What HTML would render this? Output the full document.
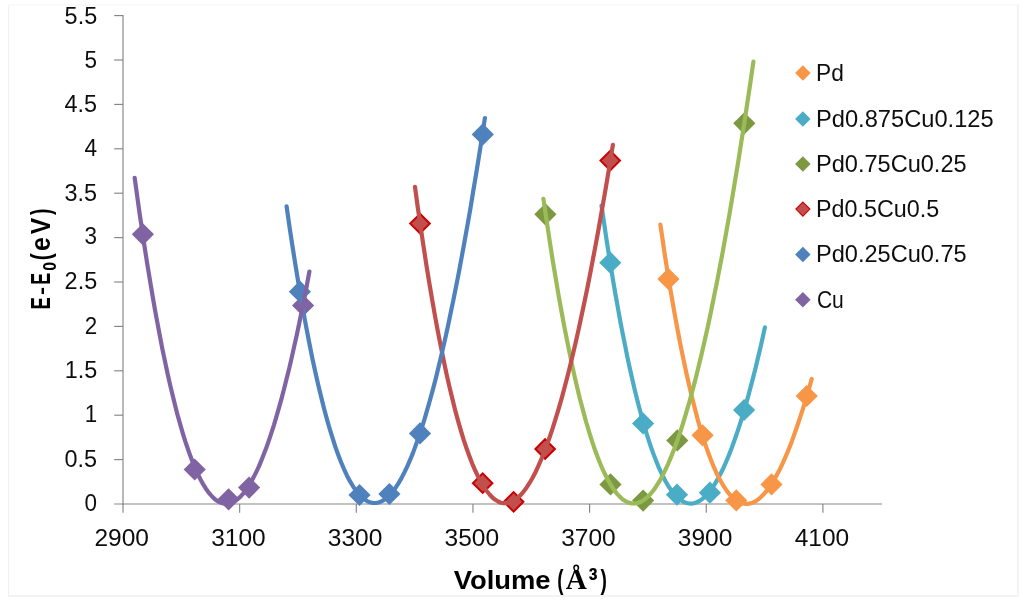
<!DOCTYPE html>
<html><head><meta charset="utf-8"><title>chart</title>
<style>
html,body{margin:0;padding:0;background:#fff;}
body{width:1024px;height:604px;overflow:hidden;}
svg{display:block;}
text{font-family:"Liberation Sans",sans-serif;fill:#111;}
</style></head><body>
<svg width="1024" height="604" viewBox="0 0 1024 604">
<rect x="0" y="0" width="1024" height="604" fill="#fff"/>
<defs><filter id="soft" x="0" y="0" width="1024" height="604" filterUnits="userSpaceOnUse"><feGaussianBlur stdDeviation="0.6"/></filter></defs>
<g filter="url(#soft)">
<g fill="none" stroke-linecap="round">
<path d="M8.55,5.2 V595.9" stroke="#f1f1f1" stroke-width="1.2"/>
<path d="M8.55,5.1 H1018.1" stroke="#f9f9f9" stroke-width="1.6"/>
<path d="M1018.1,5.2 V595.0" stroke="#f3f3f3" stroke-width="1.9"/>
<path d="M8.55,595.95 H1017.4" stroke="#f3f3f3" stroke-width="2"/>
</g>

<g stroke="#868686" stroke-width="1.15" fill="none">
<path d="M123.0,15.0 V504.6"/>
<path d="M114.2,504.0 H882"/>
<path d="M114.2,459.60 H123.0"/>
<path d="M114.2,415.20 H123.0"/>
<path d="M114.2,370.80 H123.0"/>
<path d="M114.2,326.40 H123.0"/>
<path d="M114.2,282.00 H123.0"/>
<path d="M114.2,237.60 H123.0"/>
<path d="M114.2,193.20 H123.0"/>
<path d="M114.2,148.80 H123.0"/>
<path d="M114.2,104.40 H123.0"/>
<path d="M114.2,60.00 H123.0"/>
<path d="M114.2,15.60 H123.0"/>
<path d="M123.00,504.0 V512.8"/>
<path d="M239.65,504.0 V512.8"/>
<path d="M356.30,504.0 V512.8"/>
<path d="M472.95,504.0 V512.8"/>
<path d="M589.60,504.0 V512.8"/>
<path d="M706.25,504.0 V512.8"/>
<path d="M822.90,504.0 V512.8"/>
</g>
<text transform="translate(84.62,510.65) scale(0.9297,1)" style='font-family:"Liberation Sans",sans-serif;font-size:24.20px;'>0</text>
<text transform="translate(64.60,467.15) scale(0.9680,1)" style='font-family:"Liberation Sans",sans-serif;font-size:24.20px;'>0.5</text>
<text transform="translate(84.68,422.35) scale(0.9231,1)" style='font-family:"Liberation Sans",sans-serif;font-size:24.20px;'>1</text>
<text transform="translate(64.63,377.85) scale(0.9673,1)" style='font-family:"Liberation Sans",sans-serif;font-size:24.20px;'>1.5</text>
<text transform="translate(84.64,333.65) scale(0.9268,1)" style='font-family:"Liberation Sans",sans-serif;font-size:24.20px;'>2</text>
<text transform="translate(64.61,288.95) scale(0.9677,1)" style='font-family:"Liberation Sans",sans-serif;font-size:24.20px;'>2.5</text>
<text transform="translate(84.62,244.15) scale(0.9291,1)" style='font-family:"Liberation Sans",sans-serif;font-size:24.20px;'>3</text>
<text transform="translate(64.60,201.25) scale(0.9680,1)" style='font-family:"Liberation Sans",sans-serif;font-size:24.20px;'>3.5</text>
<text transform="translate(84.60,156.25) scale(0.9327,1)" style='font-family:"Liberation Sans",sans-serif;font-size:24.20px;'>4</text>
<text transform="translate(64.60,111.65) scale(0.9682,1)" style='font-family:"Liberation Sans",sans-serif;font-size:24.20px;'>4.5</text>
<text transform="translate(84.62,68.35) scale(0.9291,1)" style='font-family:"Liberation Sans",sans-serif;font-size:24.20px;'>5</text>
<text transform="translate(64.61,23.85) scale(0.9679,1)" style='font-family:"Liberation Sans",sans-serif;font-size:24.20px;'>5.5</text>
<text transform="translate(94.42,546.00) scale(1.0000,1)" style='font-family:"Liberation Sans",sans-serif;font-size:24.50px;'>2900</text>
<text transform="translate(211.22,546.00) scale(1.0000,1)" style='font-family:"Liberation Sans",sans-serif;font-size:24.50px;'>3100</text>
<text transform="translate(327.87,546.00) scale(1.0000,1)" style='font-family:"Liberation Sans",sans-serif;font-size:24.50px;'>3300</text>
<text transform="translate(444.52,546.00) scale(1.0000,1)" style='font-family:"Liberation Sans",sans-serif;font-size:24.50px;'>3500</text>
<text transform="translate(561.17,546.00) scale(1.0000,1)" style='font-family:"Liberation Sans",sans-serif;font-size:24.50px;'>3700</text>
<text transform="translate(677.82,546.00) scale(1.0000,1)" style='font-family:"Liberation Sans",sans-serif;font-size:24.50px;'>3900</text>
<text transform="translate(794.66,546.00) scale(1.0000,1)" style='font-family:"Liberation Sans",sans-serif;font-size:24.50px;'>4100</text>
<path d="M610.3,251.6 L621.4,262.7 L610.3,273.8 L599.2,262.7 Z" fill="#4BACC6"/>
<path d="M643.1,412.4 L654.2,423.5 L643.1,434.6 L632.0,423.5 Z" fill="#4BACC6"/>
<path d="M677.0,483.6 L688.1,494.7 L677.0,505.8 L665.9,494.7 Z" fill="#4BACC6"/>
<path d="M709.9,481.6 L721.0,492.7 L709.9,503.8 L698.8,492.7 Z" fill="#4BACC6"/>
<path d="M744.1,398.9 L755.2,410.0 L744.1,421.1 L733.0,410.0 Z" fill="#4BACC6"/>
<path d="M668.4,267.9 L679.5,279.0 L668.4,290.1 L657.3,279.0 Z" fill="#F79646"/>
<path d="M702.6,424.2 L713.7,435.3 L702.6,446.4 L691.5,435.3 Z" fill="#F79646"/>
<path d="M736.3,489.3 L747.4,500.4 L736.3,511.5 L725.2,500.4 Z" fill="#F79646"/>
<path d="M771.5,473.3 L782.6,484.4 L771.5,495.5 L760.4,484.4 Z" fill="#F79646"/>
<path d="M806.7,384.9 L817.8,396.0 L806.7,407.1 L795.6,396.0 Z" fill="#F79646"/>
<path d="M545.4,203.2 L556.5,214.3 L545.4,225.4 L534.3,214.3 Z" fill="#7B9943"/>
<path d="M610.5,473.3 L621.6,484.4 L610.5,495.5 L599.4,484.4 Z" fill="#7B9943"/>
<path d="M643.1,489.5 L654.2,500.6 L643.1,511.7 L632.0,500.6 Z" fill="#7B9943"/>
<path d="M677.3,429.3 L688.4,440.4 L677.3,451.5 L666.2,440.4 Z" fill="#7B9943"/>
<path d="M744.3,112.2 L755.4,123.3 L744.3,134.4 L733.2,123.3 Z" fill="#7B9943"/>
<path d="M420.0,213.8 L429.8,223.6 L420.0,233.3 L410.2,223.6 Z" fill="#C0504D" stroke="#CC0000" stroke-width="2.0"/>
<path d="M482.7,473.4 L492.4,483.2 L482.7,492.9 L472.9,483.2 Z" fill="#C0504D" stroke="#CC0000" stroke-width="2.0"/>
<path d="M513.6,492.1 L523.4,501.8 L513.6,511.6 L503.9,501.8 Z" fill="#C0504D" stroke="#CC0000" stroke-width="2.0"/>
<path d="M545.1,439.2 L554.9,449.0 L545.1,458.8 L535.4,449.0 Z" fill="#C0504D" stroke="#CC0000" stroke-width="2.0"/>
<path d="M610.2,150.8 L620.0,160.6 L610.2,170.3 L600.5,160.6 Z" fill="#C0504D" stroke="#CC0000" stroke-width="2.0"/>
<path d="M299.9,280.6 L311.0,291.7 L299.9,302.8 L288.8,291.7 Z" fill="#4F81BD"/>
<path d="M359.5,483.9 L370.6,495.0 L359.5,506.1 L348.4,495.0 Z" fill="#4F81BD"/>
<path d="M389.4,482.9 L400.5,494.0 L389.4,505.1 L378.3,494.0 Z" fill="#4F81BD"/>
<path d="M420.0,422.3 L431.1,433.4 L420.0,444.5 L408.9,433.4 Z" fill="#4F81BD"/>
<path d="M482.8,123.3 L493.9,134.4 L482.8,145.5 L471.7,134.4 Z" fill="#4F81BD"/>
<path d="M142.9,223.2 L154.0,234.3 L142.9,245.4 L131.8,234.3 Z" fill="#8064A2"/>
<path d="M194.7,458.4 L205.8,469.5 L194.7,480.6 L183.6,469.5 Z" fill="#8064A2"/>
<path d="M228.6,488.2 L239.7,499.3 L228.6,510.4 L217.5,499.3 Z" fill="#8064A2"/>
<path d="M249.1,476.5 L260.2,487.6 L249.1,498.7 L238.0,487.6 Z" fill="#8064A2"/>
<path d="M303.1,294.4 L314.2,305.5 L303.1,316.6 L292.0,305.5 Z" fill="#8064A2"/>
<path d="M601.5,205.6 L603.9,221.8 L606.2,237.5 L608.6,252.8 L611.0,267.5 L613.3,281.8 L615.7,295.6 L618.1,309.0 L620.4,321.8 L622.8,334.2 L625.2,346.2 L627.5,357.7 L629.9,368.7 L632.3,379.3 L634.6,389.4 L637.0,399.1 L639.4,408.3 L641.8,417.1 L644.1,425.4 L646.5,433.3 L648.9,440.8 L651.2,447.8 L653.6,454.4 L656.0,460.6 L658.3,466.3 L660.7,471.6 L663.1,476.5 L665.4,481.0 L667.8,485.1 L670.2,488.8 L672.6,492.0 L674.9,494.8 L677.3,497.3 L679.7,499.3 L682.0,500.9 L684.4,502.2 L686.8,503.0 L689.1,503.5 L691.5,503.6 L693.9,503.2 L696.2,502.5 L698.6,501.4 L701.0,500.0 L703.3,498.1 L705.7,495.9 L708.1,493.4 L710.5,490.4 L712.8,487.1 L715.2,483.4 L717.6,479.4 L719.9,475.0 L722.3,470.3 L724.7,465.2 L727.0,459.7 L729.4,453.9 L731.8,447.8 L734.1,441.3 L736.5,434.5 L738.9,427.4 L741.3,419.9 L743.6,412.1 L746.0,404.0 L748.4,395.5 L750.7,386.7 L753.1,377.6 L755.5,368.2 L757.8,358.5 L760.2,348.4 L762.6,338.1 L764.9,327.4" fill="none" stroke="#4BACC6" stroke-width="4.2" stroke-linecap="round" stroke-linejoin="round"/>
<path d="M660.4,224.7 L662.6,239.6 L664.7,254.1 L666.9,268.1 L669.1,281.6 L671.3,294.7 L673.5,307.4 L675.7,319.7 L677.9,331.5 L680.1,342.9 L682.3,353.9 L684.5,364.4 L686.7,374.5 L688.9,384.3 L691.1,393.6 L693.3,402.5 L695.5,411.0 L697.6,419.1 L699.8,426.8 L702.0,434.1 L704.2,441.1 L706.4,447.6 L708.6,453.8 L710.8,459.6 L713.0,465.0 L715.2,470.1 L717.4,474.8 L719.6,479.1 L721.8,483.0 L724.0,486.6 L726.2,489.9 L728.3,492.8 L730.5,495.4 L732.7,497.6 L734.9,499.4 L737.1,501.0 L739.3,502.2 L741.5,503.1 L743.7,503.6 L745.9,503.9 L748.1,503.8 L750.3,503.4 L752.5,502.7 L754.7,501.7 L756.9,500.4 L759.1,498.7 L761.2,496.8 L763.4,494.6 L765.6,492.1 L767.8,489.3 L770.0,486.3 L772.2,482.9 L774.4,479.3 L776.6,475.4 L778.8,471.3 L781.0,466.8 L783.2,462.1 L785.4,457.2 L787.6,452.0 L789.8,446.6 L792.0,440.9 L794.1,434.9 L796.3,428.7 L798.5,422.3 L800.7,415.7 L802.9,408.8 L805.1,401.7 L807.3,394.3 L809.5,386.8 L811.7,379.0" fill="none" stroke="#F79646" stroke-width="4.2" stroke-linecap="round" stroke-linejoin="round"/>
<path d="M543.4,198.8 L546.5,219.7 L549.5,239.8 L552.5,259.1 L555.6,277.7 L558.6,295.5 L561.7,312.5 L564.7,328.7 L567.8,344.2 L570.8,358.9 L573.8,372.9 L576.9,386.2 L579.9,398.7 L583.0,410.4 L586.0,421.5 L589.1,431.8 L592.1,441.4 L595.1,450.3 L598.2,458.5 L601.2,466.0 L604.3,472.8 L607.3,478.9 L610.4,484.3 L613.4,489.0 L616.4,493.1 L619.5,496.4 L622.5,499.2 L625.6,501.2 L628.6,502.6 L631.7,503.4 L634.7,503.5 L637.8,503.0 L640.8,501.8 L643.8,500.0 L646.9,497.6 L649.9,494.6 L653.0,491.0 L656.0,486.7 L659.1,481.9 L662.1,476.4 L665.1,470.4 L668.2,463.8 L671.2,456.6 L674.3,448.8 L677.3,440.5 L680.4,431.6 L683.4,422.1 L686.4,412.1 L689.5,401.5 L692.5,390.4 L695.6,378.7 L698.6,366.5 L701.7,353.8 L704.7,340.5 L707.8,326.8 L710.8,312.5 L713.8,297.7 L716.9,282.4 L719.9,266.6 L723.0,250.4 L726.0,233.6 L729.1,216.4 L732.1,198.6 L735.1,180.4 L738.2,161.8 L741.2,142.7 L744.3,123.1 L747.3,103.1 L750.4,82.6 L753.4,61.7" fill="none" stroke="#9BBB59" stroke-width="4.2" stroke-linecap="round" stroke-linejoin="round"/>
<path d="M415.0,186.9 L417.8,207.6 L420.7,227.5 L423.6,246.7 L426.4,265.1 L429.3,282.8 L432.2,299.8 L435.0,316.0 L437.9,331.6 L440.8,346.4 L443.7,360.5 L446.5,373.9 L449.4,386.6 L452.3,398.6 L455.1,409.9 L458.0,420.6 L460.9,430.6 L463.7,439.9 L466.6,448.5 L469.5,456.5 L472.3,463.8 L475.2,470.5 L478.1,476.6 L480.9,482.0 L483.8,486.8 L486.7,491.0 L489.6,494.5 L492.4,497.5 L495.3,499.8 L498.2,501.5 L501.0,502.7 L503.9,503.2 L506.8,503.2 L509.6,502.6 L512.5,501.4 L515.4,499.7 L518.2,497.4 L521.1,494.5 L524.0,491.1 L526.8,487.2 L529.7,482.7 L532.6,477.7 L535.5,472.2 L538.3,466.1 L541.2,459.5 L544.1,452.5 L546.9,444.9 L549.8,436.8 L552.7,428.2 L555.5,419.2 L558.4,409.6 L561.3,399.6 L564.1,389.2 L567.0,378.2 L569.9,366.8 L572.7,355.0 L575.6,342.7 L578.5,329.9 L581.3,316.8 L584.2,303.2 L587.1,289.2 L590.0,274.7 L592.8,259.9 L595.7,244.6 L598.6,229.0 L601.4,212.9 L604.3,196.5 L607.2,179.7 L610.0,162.5 L612.9,144.9" fill="none" stroke="#C0504D" stroke-width="4.2" stroke-linecap="round" stroke-linejoin="round"/>
<path d="M286.6,206.3 L289.4,226.1 L292.3,245.1 L295.2,263.5 L298.1,281.1 L300.9,298.0 L303.8,314.2 L306.7,329.7 L309.6,344.5 L312.4,358.6 L315.3,372.0 L318.2,384.7 L321.1,396.8 L323.9,408.1 L326.8,418.8 L329.7,428.9 L332.6,438.2 L335.4,447.0 L338.3,455.0 L341.2,462.5 L344.1,469.3 L346.9,475.4 L349.8,480.9 L352.7,485.8 L355.6,490.1 L358.4,493.7 L361.3,496.8 L364.2,499.2 L367.1,501.1 L369.9,502.3 L372.8,503.0 L375.7,503.0 L378.6,502.5 L381.4,501.4 L384.3,499.7 L387.2,497.5 L390.1,494.7 L392.9,491.3 L395.8,487.4 L398.7,482.9 L401.6,477.9 L404.4,472.4 L407.3,466.3 L410.2,459.7 L413.1,452.6 L415.9,444.9 L418.8,436.8 L421.7,428.1 L424.6,418.9 L427.4,409.2 L430.3,399.0 L433.2,388.4 L436.1,377.2 L438.9,365.6 L441.8,353.5 L444.7,340.9 L447.6,327.8 L450.4,314.3 L453.3,300.4 L456.2,285.9 L459.1,271.1 L461.9,255.8 L464.8,240.0 L467.7,223.9 L470.6,207.3 L473.4,190.2 L476.3,172.8 L479.2,154.9 L482.1,136.7 L484.9,118.0" fill="none" stroke="#4F81BD" stroke-width="4.2" stroke-linecap="round" stroke-linejoin="round"/>
<path d="M134.7,177.9 L137.2,196.3 L139.7,214.1 L142.3,231.4 L144.8,248.1 L147.3,264.3 L149.9,279.8 L152.4,294.9 L154.9,309.4 L157.5,323.3 L160.0,336.7 L162.5,349.6 L165.1,361.9 L167.6,373.7 L170.1,384.9 L172.7,395.6 L175.2,405.8 L177.7,415.5 L180.3,424.6 L182.8,433.3 L185.3,441.4 L187.9,449.0 L190.4,456.1 L192.9,462.7 L195.5,468.8 L198.0,474.4 L200.5,479.5 L203.1,484.1 L205.6,488.2 L208.1,491.8 L210.7,494.9 L213.2,497.6 L215.7,499.8 L218.3,501.5 L220.8,502.7 L223.3,503.5 L225.9,503.8 L228.4,503.6 L230.9,503.0 L233.5,501.9 L236.0,500.4 L238.5,498.4 L241.1,495.9 L243.6,493.1 L246.1,489.7 L248.7,486.0 L251.2,481.8 L253.7,477.1 L256.2,472.1 L258.8,466.6 L261.3,460.6 L263.8,454.3 L266.4,447.5 L268.9,440.4 L271.4,432.8 L274.0,424.8 L276.5,416.4 L279.0,407.6 L281.6,398.4 L284.1,388.8 L286.6,378.8 L289.2,368.4 L291.7,357.6 L294.2,346.4 L296.8,334.9 L299.3,323.0 L301.8,310.7 L304.4,298.0 L306.9,285.0 L309.4,271.5" fill="none" stroke="#8064A2" stroke-width="4.2" stroke-linecap="round" stroke-linejoin="round"/>
<path d="M802.9,65.2 L810.6,73.0 L802.9,80.8 L795.1,73.0 Z" fill="#F79646"/>
<text transform="translate(816.07,80.90) scale(0.9886,1)" style='font-family:"Liberation Sans",sans-serif;font-size:23.00px;'>Pd</text>
<path d="M802.9,111.2 L810.6,118.9 L802.9,126.7 L795.1,118.9 Z" fill="#4BACC6"/>
<text transform="translate(816.00,126.80) scale(1.0295,1)" style='font-family:"Liberation Sans",sans-serif;font-size:23.00px;'>Pd0.875Cu0.125</text>
<path d="M802.9,156.3 L810.6,164.1 L802.9,171.8 L795.1,164.1 Z" fill="#7B9943"/>
<text transform="translate(816.01,172.00) scale(1.0249,1)" style='font-family:"Liberation Sans",sans-serif;font-size:23.00px;'>Pd0.75Cu0.25</text>
<path d="M802.9,202.1 L809.9,209.1 L802.9,216.1 L795.9,209.1 Z" fill="#C0504D" stroke="#CC0000" stroke-width="1.1"/>
<text transform="translate(816.03,217.00) scale(1.0141,1)" style='font-family:"Liberation Sans",sans-serif;font-size:23.00px;'>Pd0.5Cu0.5</text>
<path d="M802.9,246.8 L810.6,254.5 L802.9,262.2 L795.1,254.5 Z" fill="#4F81BD"/>
<text transform="translate(816.01,262.40) scale(1.0249,1)" style='font-family:"Liberation Sans",sans-serif;font-size:23.00px;'>Pd0.25Cu0.75</text>
<path d="M802.9,291.9 L810.6,299.7 L802.9,307.4 L795.1,299.7 Z" fill="#8064A2"/>
<text transform="translate(816.90,307.60) scale(0.9163,1)" style='font-family:"Liberation Sans",sans-serif;font-size:23.00px;'>Cu</text>
<text transform="translate(453.74,588.90) scale(1.0942,1)" style='font-family:"Liberation Sans",sans-serif;font-size:25.03px;font-weight:bold;fill:#000;'>Volume</text>
<text transform="translate(557.21,588.71) scale(0.6781,1)" style='font-family:"Liberation Sans",sans-serif;font-size:27.67px;font-weight:bold;fill:#000;'>(</text>
<text transform="translate(565.66,589.05) scale(0.9819,1)" style='font-family:"Liberation Serif",serif;font-size:29.76px;font-weight:bold;fill:#000;'>Å</text>
<text transform="translate(588.54,590.74) scale(0.8229,1)" style='font-family:"Liberation Sans",sans-serif;font-size:33.10px;font-weight:bold;fill:#000;'>³</text>
<text transform="translate(600.55,588.71) scale(0.6975,1)" style='font-family:"Liberation Sans",sans-serif;font-size:27.67px;font-weight:bold;fill:#000;'>)</text>
<text transform="rotate(-90) translate(-309.49,50.05) scale(0.6798,1)" style='font-family:"Liberation Sans",sans-serif;font-size:27.05px;font-weight:bold;fill:#000;'>E</text>
<text transform="rotate(-90) translate(-295.06,47.75) scale(1.2157,1)" style='font-family:"Liberation Sans",sans-serif;font-size:20.00px;font-weight:bold;fill:#000;'>-</text>
<text transform="rotate(-90) translate(-284.86,50.05) scale(0.6600,1)" style='font-family:"Liberation Sans",sans-serif;font-size:27.05px;font-weight:bold;fill:#000;'>E</text>
<text transform="rotate(-90) translate(-270.68,56.47) scale(0.8937,1)" style='font-family:"Liberation Sans",sans-serif;font-size:17.67px;font-weight:bold;fill:#000;'>0</text>
<text transform="rotate(-90) translate(-260.19,49.72) scale(0.7433,1)" style='font-family:"Liberation Sans",sans-serif;font-size:28.10px;font-weight:bold;fill:#000;'>(</text>
<text transform="rotate(-90) translate(-250.89,50.18) scale(0.9292,1)" style='font-family:"Liberation Sans",sans-serif;font-size:26.85px;font-weight:bold;fill:#000;'>e</text>
<text transform="rotate(-90) translate(-234.23,50.25) scale(0.8826,1)" style='font-family:"Liberation Sans",sans-serif;font-size:27.78px;font-weight:bold;fill:#000;'>V</text>
<text transform="rotate(-90) translate(-215.05,49.72) scale(0.6869,1)" style='font-family:"Liberation Sans",sans-serif;font-size:28.10px;font-weight:bold;fill:#000;'>)</text>
</g></svg></body></html>
